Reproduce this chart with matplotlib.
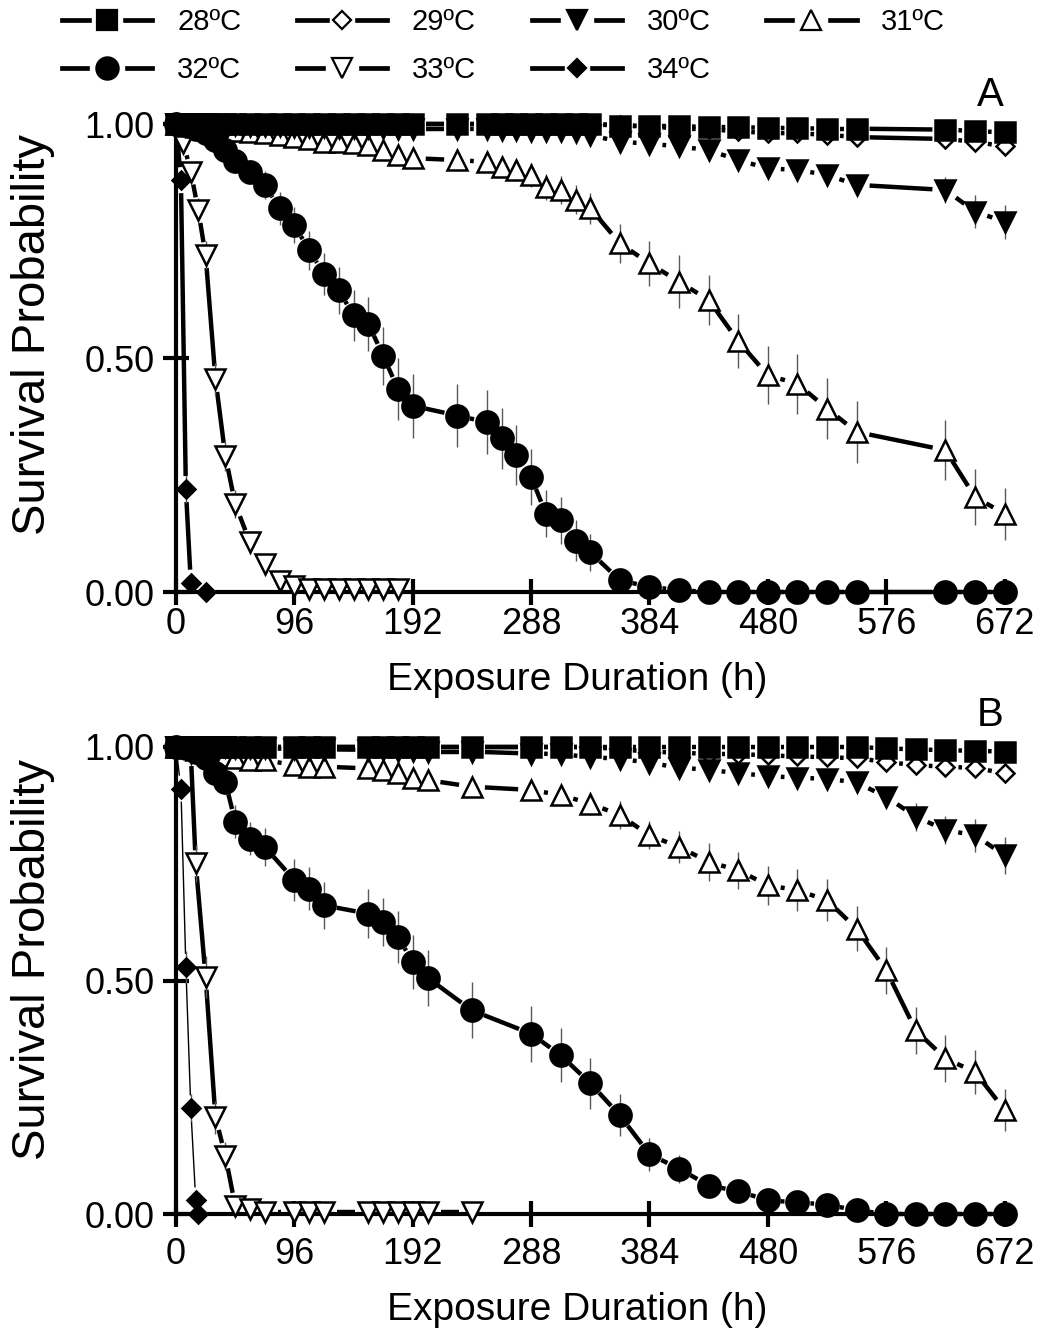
import numpy as np
import matplotlib
matplotlib.use('Agg')
import matplotlib.pyplot as plt
from matplotlib.collections import LineCollection
from matplotlib.lines import Line2D
from matplotlib.legend_handler import HandlerTuple
from matplotlib import font_manager

# ---- data: panel A ----
tA = [0, 8, 16, 24, 32, 40, 48, 60, 72, 84,
      96, 108, 120, 132, 144, 156, 168, 180, 192, 228,
      252, 264, 276, 288, 300, 312, 324, 336, 360, 384,
      408, 432, 456, 480, 504, 528, 552, 624, 648, 672]
a28 = [1.0, 1.0, 1.0, 1.0, 1.0, 1.0, 1.0, 1.0, 1.0, 1.0,
       1.0, 1.0, 1.0, 1.0, 1.0, 1.0, 1.0, 1.0, 1.0, 1.0,
       1.0, 1.0, 1.0, 1.0, 1.0, 1.0, 1.0, 1.0, 0.996, 0.995,
       0.995, 0.994, 0.993, 0.992, 0.991, 0.99, 0.99, 0.988, 0.985, 0.982]
a29 = [1.0, 1.0, 1.0, 1.0, 1.0, 1.0, 1.0, 1.0, 1.0, 1.0,
       1.0, 1.0, 1.0, 1.0, 1.0, 1.0, 1.0, 1.0, 1.0, 1.0,
       1.0, 1.0, 1.0, 1.0, 1.0, 1.0, 1.0, 1.0, 0.998, 0.995,
       0.99, 0.989, 0.984, 0.981, 0.98, 0.977, 0.972, 0.968, 0.962, 0.952]
a30 = [1.0, 1.0, 1.0, 1.0, 0.998, 0.998, 0.997, 0.996, 0.995, 0.995,
       0.994, 0.993, 0.993, 0.992, 0.992, 0.991, 0.991, 0.99, 0.99, 0.99,
       0.989, 0.988, 0.987, 0.986, 0.985, 0.984, 0.982, 0.976, 0.962, 0.958,
       0.952, 0.944, 0.923, 0.905, 0.902, 0.891, 0.87, 0.859, 0.813, 0.791]
a31 = [1.0, 0.995, 0.993, 0.99, 0.988, 0.986, 0.984, 0.982, 0.98, 0.976,
       0.973, 0.967, 0.962, 0.961, 0.959, 0.955, 0.944, 0.934, 0.927, 0.923,
       0.919, 0.909, 0.902, 0.891, 0.865, 0.859, 0.838, 0.82, 0.745, 0.702,
       0.663, 0.624, 0.536, 0.463, 0.445, 0.392, 0.342, 0.303, 0.203, 0.167]
a32 = [1.0, 0.997, 0.99, 0.98, 0.966, 0.944, 0.92, 0.898, 0.869, 0.82,
       0.784, 0.73, 0.68, 0.645, 0.591, 0.573, 0.505, 0.434, 0.398, 0.377,
       0.363, 0.328, 0.292, 0.246, 0.167, 0.153, 0.11, 0.085, 0.025, 0.011,
       0.004, 0.0, 0.0, 0.0, 0.0, 0.0, 0.0, 0.0, 0.0, 0.0]
ea29 = [0, 0, 0, 0, 0, 0, 0, 0, 0, 0,
        0, 0, 0, 0, 0, 0, 0, 0, 0, 0,
        0, 0, 0, 0, 0, 0, 0, 0, 0.003, 0.004,
        0.005, 0.006, 0.008, 0.008, 0.009, 0.01, 0.01, 0.012, 0.014, 0.016]
ea30 = [0, 0, 0, 0, 0.002, 0.002, 0.003, 0.003, 0.004, 0.004,
        0.004, 0.004, 0.004, 0.005, 0.005, 0.005, 0.005, 0.005, 0.005, 0.005,
        0.006, 0.006, 0.006, 0.006, 0.007, 0.007, 0.007, 0.008, 0.01, 0.011,
        0.012, 0.013, 0.016, 0.018, 0.019, 0.02, 0.022, 0.027, 0.036, 0.036]
ea31 = [0, 0.004, 0.005, 0.006, 0.007, 0.007, 0.008, 0.009, 0.009, 0.01,
        0.011, 0.012, 0.013, 0.013, 0.014, 0.015, 0.016, 0.018, 0.02, 0.021,
        0.022, 0.023, 0.024, 0.025, 0.028, 0.029, 0.031, 0.033, 0.041, 0.048,
        0.057, 0.053, 0.058, 0.062, 0.064, 0.066, 0.066, 0.064, 0.059, 0.055]
ea32 = [0, 0.004, 0.008, 0.011, 0.015, 0.019, 0.022, 0.025, 0.03, 0.035,
        0.038, 0.042, 0.045, 0.05, 0.055, 0.058, 0.062, 0.066, 0.068, 0.068,
        0.068, 0.066, 0.064, 0.06, 0.05, 0.05, 0.043, 0.04, 0.02, 0.012,
        0.006, 0, 0, 0, 0, 0, 0, 0, 0, 0]
tA33 = [0, 6, 12, 18, 24, 32, 40, 48, 60, 72, 84, 96, 108, 120, 132, 144, 156, 168, 180]
a33 = [1.0, 0.96, 0.898, 0.816, 0.72, 0.455, 0.291, 0.188, 0.106, 0.059,
       0.024, 0.013, 0.006, 0.006, 0.006, 0.006, 0.006, 0.006, 0.006]
ea33 = [0, 0.015, 0.02, 0.025, 0.03, 0.035, 0.032, 0.03, 0.025, 0.018,
        0.012, 0.008, 0.005, 0, 0, 0, 0, 0, 0]
tA34 = [0, 4, 8, 12, 24]
a34 = [1.0, 0.88, 0.22, 0.02, 0.0]
ea34 = [0, 0.02, 0.03, 0.01, 0]

# ---- data: panel B ----
tB = [0, 8, 16, 24, 32, 40, 48, 60, 72, 96,
      108, 120, 156, 168, 180, 192, 204, 240, 288, 312,
      336, 360, 384, 408, 432, 456, 480, 504, 528, 552,
      576, 600, 624, 648, 672]
b28 = [1.0, 1.0, 1.0, 1.0, 1.0, 1.0, 1.0, 1.0, 1.0, 1.0,
       1.0, 1.0, 1.0, 1.0, 1.0, 1.0, 1.0, 1.0, 1.0, 1.0,
       1.0, 1.0, 1.0, 1.0, 1.0, 1.0, 1.0, 1.0, 1.0, 1.0,
       0.997, 0.995, 0.993, 0.992, 0.99]
b29 = [1.0, 1.0, 1.0, 1.0, 1.0, 1.0, 1.0, 1.0, 1.0, 1.0,
       1.0, 1.0, 1.0, 1.0, 1.0, 1.0, 1.0, 1.0, 1.0, 1.0,
       1.0, 0.995, 0.99, 0.988, 0.985, 0.985, 0.982, 0.98, 0.978, 0.976,
       0.968, 0.961, 0.958, 0.955, 0.944]
b30 = [1.0, 1.0, 1.0, 1.0, 1.0, 0.999, 0.998, 0.998, 0.997, 0.996,
       0.995, 0.995, 0.994, 0.993, 0.992, 0.991, 0.99, 0.99, 0.986, 0.985,
       0.978, 0.975, 0.966, 0.956, 0.951, 0.944, 0.938, 0.934, 0.932, 0.924,
       0.893, 0.851, 0.822, 0.811, 0.768]
b31 = [1.0, 0.998, 0.994, 0.99, 0.985, 0.98, 0.976, 0.972, 0.972, 0.961,
       0.958, 0.958, 0.954, 0.951, 0.944, 0.933, 0.929, 0.915, 0.908, 0.897,
       0.879, 0.854, 0.811, 0.786, 0.754, 0.736, 0.704, 0.693, 0.672, 0.611,
       0.522, 0.393, 0.333, 0.304, 0.223]
b32 = [1.0, 0.997, 0.99, 0.976, 0.944, 0.926, 0.84, 0.804, 0.786, 0.715,
       0.697, 0.661, 0.643, 0.625, 0.593, 0.54, 0.506, 0.436, 0.386, 0.34,
       0.28, 0.211, 0.128, 0.097, 0.061, 0.049, 0.029, 0.025, 0.02, 0.008,
       0.0, 0.0, 0.0, 0.0, 0.0]
eb29 = [0, 0, 0, 0, 0, 0, 0, 0, 0, 0,
        0, 0, 0, 0, 0, 0, 0, 0, 0, 0,
        0, 0.003, 0.005, 0.006, 0.007, 0.007, 0.008, 0.008, 0.009, 0.009,
        0.01, 0.012, 0.012, 0.013, 0.015]
eb30 = [0, 0, 0, 0, 0, 0.002, 0.002, 0.002, 0.003, 0.003,
        0.003, 0.003, 0.004, 0.004, 0.004, 0.005, 0.005, 0.005, 0.006, 0.006,
        0.008, 0.008, 0.01, 0.012, 0.012, 0.013, 0.014, 0.014, 0.015, 0.015,
        0.02, 0.03, 0.03, 0.035, 0.04]
eb31 = [0, 0.003, 0.005, 0.006, 0.007, 0.008, 0.009, 0.01, 0.01, 0.011,
        0.012, 0.012, 0.013, 0.013, 0.014, 0.015, 0.016, 0.018, 0.02, 0.02,
        0.025, 0.03, 0.03, 0.035, 0.04, 0.04, 0.042, 0.045, 0.045, 0.048,
        0.05, 0.05, 0.05, 0.048, 0.045]
eb32 = [0, 0.004, 0.007, 0.01, 0.02, 0.025, 0.035, 0.035, 0.04, 0.045,
        0.045, 0.05, 0.052, 0.052, 0.055, 0.058, 0.06, 0.06, 0.06, 0.058,
        0.055, 0.045, 0.035, 0.03, 0.02, 0.018, 0.012, 0.01, 0.01, 0.005,
        0, 0, 0, 0, 0]
tB33 = [0, 12, 16, 24, 32, 40, 48, 60, 72, 96, 108, 120, 156, 168, 180, 192, 204, 240]
b33 = [1.0, 0.987, 0.751, 0.508, 0.207, 0.125, 0.018, 0.01, 0.005,
       0.005, 0.005, 0.005, 0.005, 0.005, 0.005, 0.005, 0.005, 0.005]
eb33 = [0, 0.01, 0.04, 0.045, 0.035, 0.03, 0.012, 0.008, 0.005,
        0, 0, 0, 0, 0, 0, 0, 0, 0]
tB34 = [0, 4, 8, 12, 16, 18]
b34 = [1.0, 0.911, 0.529, 0.226, 0.029, 0.0]
eb34 = [0, 0.02, 0.035, 0.03, 0.01, 0]

labels = ['28ºC', '29ºC', '30ºC', '31ºC', '32ºC', '33ºC', '34ºC']
xticks = [0, 96, 192, 288, 384, 480, 576, 672]

# marker style per temperature: marker, filled, size
style = {
    '28ºC': ('s', True, 14),
    '29ºC': ('D', False, 9.5),
    '30ºC': ('v', True, 15),
    '31ºC': ('^', False, 15),
    '32ºC': ('o', True, 16),
    '33ºC': ('v', False, 15),
    '34ºC': ('D', True, 9.5),
}

names = {f.name for f in font_manager.fontManager.ttflist}
NARROW = 'Liberation Sans Narrow' if 'Liberation Sans Narrow' in names else None
plt.rcParams['font.family'] = 'Liberation Sans'

W, H = 1040, 1343
fig = plt.figure(figsize=(W / 100, H / 100), dpi=100)


def px_axes(left, top, right, bottom):
    return fig.add_axes([left / W, 1 - bottom / H, (right - left) / W, (bottom - top) / H])


def gap_line(ax, t, v, lw, z, gap=13):
    # line segments stopped short of each marker, like the original
    pts = ax.transData.transform(np.column_stack([t, v]))
    inv = ax.transData.inverted()
    segs = []
    for p, q in zip(pts[:-1], pts[1:]):
        d = q - p
        L = np.hypot(d[0], d[1])
        if L > 2 * gap + 1:
            u = d / L
            segs.append(inv.transform(np.array([p + u * gap, q - u * gap])))
    lc = LineCollection(segs, colors='k', linewidths=lw, capstyle='butt', zorder=z)
    lc.set_clip_on(False)
    ax.add_collection(lc, autolim=False)


def series(ax, t, v, err, lab, z, lw=3.2):
    mk, filled, ms = style[lab]
    gap_line(ax, t, v, lw, z)
    if err is not None:
        ax.errorbar(t, v, yerr=err, fmt='none', ecolor='0.35', elinewidth=1.0,
                    capsize=0, zorder=z + 0.1)
    ax.plot(t, v, ls='none', marker=mk, ms=ms, mfc='k' if filled else 'w',
            mec='k', mew=1.8, zorder=z + 0.2, clip_on=False)


def setup(ax, xpad):
    ax.set_xlim(0, 678)
    ax.set_ylim(0, 1.02)
    for s in ['top', 'right']:
        ax.spines[s].set_visible(False)
    for s in ['left', 'bottom']:
        ax.spines[s].set_linewidth(3)
    ax.set_xticks(xticks)
    ax.set_xticklabels([str(x) for x in xticks])
    ax.set_yticks([0, 0.5, 1.0])
    ax.set_yticklabels(['0.00', '0.50', '1.00'])
    ax.tick_params(axis='both', direction='inout', length=19, width=3)
    ax.tick_params(axis='y', labelsize=26, pad=6)
    ax.tick_params(axis='x', pad=xpad)
    for lbl in ax.get_xticklabels():
        if NARROW:
            lbl.set_family(NARROW)
            lbl.set_fontsize(31)
        else:
            lbl.set_fontsize(26)


axA = px_axes(176, 592 - 1.02 * 468, 1012, 592)
axB = px_axes(176, 1214 - 1.02 * 467, 1012, 1214)
setup(axA, 1)
setup(axB, 7)

panelA = {
    '34ºC': (tA34, a34, ea34), '33ºC': (tA33, a33, ea33), '31ºC': (tA, a31, ea31),
    '32ºC': (tA, a32, ea32), '29ºC': (tA, a29, ea29), '30ºC': (tA, a30, ea30),
    '28ºC': (tA, a28, None),
}
panelB = {
    '34ºC': (tB34, b34, eb34), '33ºC': (tB33, b33, eb33), '31ºC': (tB, b31, eb31),
    '32ºC': (tB, b32, eb32), '29ºC': (tB, b29, eb29), '30ºC': (tB, b30, eb30),
    '28ºC': (tB, b28, None),
}

for ax, data in [(axA, panelA), (axB, panelB)]:
    for i, lab in enumerate(data):
        t, v, e = data[lab]
        lw = 1.0 if (ax is axB and lab == '34ºC') else 3.2
        series(ax, t, v, e, lab, 3 + i, lw=lw)

# axis titles and panel letters
xl_font = dict(family=NARROW, fontsize=34) if NARROW else dict(fontsize=28)
for cy in [680, 1310]:
    fig.text(577 / W, 1 - cy / H, 'Exposure Duration (h)', ha='center', va='center', **xl_font)
for cy in [335, 960]:
    fig.text(33 / W, 1 - cy / H, 'Survival Probability', ha='center', va='center',
             rotation=90, fontsize=34)
fig.text(990 / W, 1 - 95 / H, 'A', ha='center', va='center', fontsize=29)
fig.text(990 / W, 1 - 715 / H, 'B', ha='center', va='center', fontsize=29)

# legend: row-major order across 4 columns
handles = {}
for lab in labels:
    mk, filled, ms = style[lab]
    ln = Line2D([], [], color='k', lw=3.4)
    halo = Line2D([], [], ls='none', marker='s', ms=ms + 8, mfc='w', mec='w')
    m = Line2D([], [], ls='none', marker=mk, ms=ms * 1.0, mfc='k' if filled else 'w',
               mec='k', mew=1.6)
    handles[lab] = (ln, halo, m)
order = ['28ºC', '32ºC', '29ºC', '33ºC', '30ºC', '34ºC', '31ºC']
fig.legend([handles[k] for k in order], order, loc='upper left',
           bbox_to_anchor=(62 / W, 1 - 8 / H), ncol=4, frameon=False, fontsize=21,
           handlelength=3.1, handletextpad=0.85, columnspacing=1.9, labelspacing=0.7,
           borderpad=0, borderaxespad=0,
           handler_map={tuple: HandlerTuple(ndivide=1, pad=0)})

fig.savefig('out.png', dpi=100)
